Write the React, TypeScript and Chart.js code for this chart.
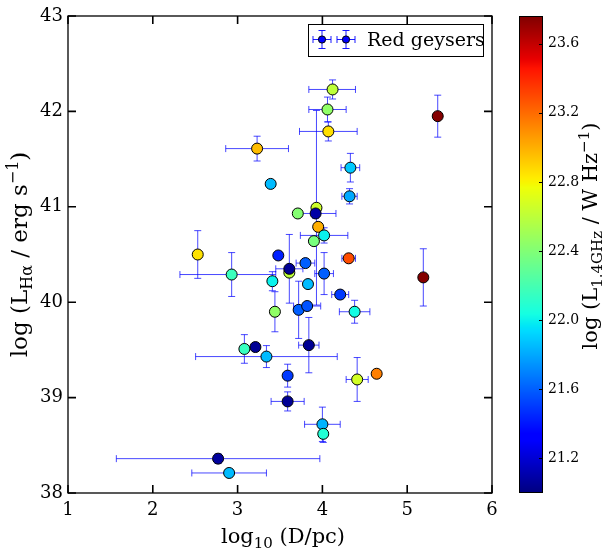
import React, { useEffect, useRef } from "react";
import { Chart, registerables } from "chart.js";

Chart.register(...registerables);

// log10 (D/pc)
const distance = [3.23, 4.12, 4.06, 4.07, 5.36, 4.33, 3.39, 4.32, 3.93, 3.71, 3.92, 3.95, 3.90, 4.02, 2.53, 3.48, 4.31, 3.61, 3.61, 3.80, 2.93, 4.02, 5.19, 3.41, 3.83, 4.21, 3.72, 3.82, 3.44, 4.38, 3.84, 3.21, 3.08, 3.34, 3.59, 4.41, 4.64, 3.59, 4.00, 4.01, 2.77, 2.90];
// log L_Halpha (erg/s)
const lumHa = [41.61, 42.23, 42.02, 41.79, 41.95, 41.41, 41.24, 41.11, 40.99, 40.93, 40.93, 40.79, 40.64, 40.70, 40.50, 40.49, 40.46, 40.31, 40.35, 40.41, 40.29, 40.30, 40.26, 40.22, 40.19, 40.08, 39.92, 39.96, 39.90, 39.90, 39.55, 39.53, 39.51, 39.43, 39.23, 39.19, 39.25, 38.96, 38.72, 38.62, 38.36, 38.21];
// distance error (lower / upper)
const distErrLow = [0.37, 0.28, 0.22, 0.34, 0, 0.11, 0, 0.09, 0, 0, 0.24, 0, 0, 0.28, 0, 0, 0.08, 0, 0.16, 0.11, 0.61, 0.11, 0, 0, 0, 0.10, 0, 0.16, 0, 0.18, 0.12, 0, 0, 0.835, 0, 0.13, 0, 0.195, 0.21, 0, 1.2, 0.44];
const distErrHigh = [0.37, 0.27, 0.22, 0.34, 0, 0.11, 0, 0.09, 0, 0, 0.24, 0, 0, 0.28, 0, 0, 0.08, 0, 0.16, 0.11, 0.52, 0.11, 0, 0, 0, 0.10, 0, 0.16, 0, 0.18, 0.12, 0, 0, 0.835, 0, 0.13, 0, 0.195, 0.21, 0, 1.2, 0.44];
// L_Halpha error
const lumErr = [0.13, 0.10, 0.13, 0.10, 0.22, 0.15, 0, 0.08, 1.02, 0, 0.05, 0, 0, 0.08, 0.25, 0, 0, 0, 0.36, 0, 0.23, 0.22, 0.30, 0.10, 0, 0, 0.30, 0, 0.21, 0.12, 0.29, 0, 0.15, 0.115, 0.12, 0.23, 0, 0.10, 0.18, 0.09, 0.05, 0];
// log L_1.4GHz (W/Hz) -> colour
const lumRadio = [22.96, 22.6, 22.45, 22.86, 23.75, 21.89, 21.85, 21.8, 22.65, 22.41, 21.09, 23.0, 22.37, 22.0, 22.85, 21.43, 23.29, 22.6, 21.05, 21.6, 22.16, 21.6, 23.75, 22.0, 21.85, 21.5, 21.6, 21.57, 22.45, 22.03, 21.05, 21.05, 22.15, 21.85, 21.5, 22.67, 23.14, 21.05, 21.83, 22.08, 21.07, 21.85];

const xTicks = [1, 2, 3, 4, 5, 6];
const yTicks = [38, 39, 40, 41, 42, 43];
const cbTicks = [21.2, 21.6, 22.0, 22.4, 22.8, 23.2, 23.6];
const cbMin = 21.0;
const cbMax = 23.76;
const legendLabel = "Red geysers";

const SERIF = '"DejaVu Serif", "Liberation Serif", serif';

type Seg = { t: string; s: number; dy: number };

const jetR = [[0, 0], [0.35, 0], [0.66, 1], [0.89, 1], [1, 0.5]];
const jetG = [[0, 0], [0.125, 0], [0.375, 1], [0.64, 1], [0.91, 0], [1, 0]];
const jetB = [[0, 0.5], [0.11, 1], [0.34, 1], [0.65, 0], [1, 0]];

function seg(pts: number[][], t: number) {
  for (let i = 1; i < pts.length; i++) {
    if (t <= pts[i][0]) {
      const [x0, y0] = pts[i - 1];
      const [x1, y1] = pts[i];
      return y0 + ((t - x0) / (x1 - x0)) * (y1 - y0);
    }
  }
  return pts[pts.length - 1][1];
}

function jet(v: number) {
  let t = (v - cbMin) / (cbMax - cbMin);
  t = Math.max(0, Math.min(1, t));
  const r = Math.round(seg(jetR, t) * 255);
  const g = Math.round(seg(jetG, t) * 255);
  const b = Math.round(seg(jetB, t) * 255);
  return `rgb(${r},${g},${b})`;
}

function drawRich(ctx: CanvasRenderingContext2D, segs: Seg[], x: number, y: number, rot: number) {
  ctx.save();
  ctx.translate(x, y);
  ctx.rotate(rot);
  ctx.textAlign = "left";
  ctx.textBaseline = "alphabetic";
  ctx.fillStyle = "#000";
  let total = 0;
  const widths: number[] = [];
  for (const s of segs) {
    ctx.font = `${s.s}px ${SERIF}`;
    const w = ctx.measureText(s.t).width;
    widths.push(w);
    total += w;
  }
  let cx = -total / 2;
  segs.forEach((s, i) => {
    ctx.font = `${s.s}px ${SERIF}`;
    ctx.fillText(s.t, cx, s.dy);
    cx += widths[i];
  });
  ctx.restore();
}

const customPlugin = {
  id: "customDraw",
  beforeDatasetsDraw(chart: any) {
    const ctx: CanvasRenderingContext2D = chart.ctx;
    const xs = chart.scales.x;
    const ys = chart.scales.y;
    const cap = 3.5;
    ctx.save();
    ctx.strokeStyle = "rgba(0,0,255,0.72)";
    ctx.lineWidth = 1;
    for (let i = 0; i < distance.length; i++) {
      const px = xs.getPixelForValue(distance[i]);
      const py = ys.getPixelForValue(lumHa[i]);
      if (distErrLow[i] > 0 || distErrHigh[i] > 0) {
        const x1 = xs.getPixelForValue(distance[i] - distErrLow[i]);
        const x2 = xs.getPixelForValue(distance[i] + distErrHigh[i]);
        ctx.beginPath();
        ctx.moveTo(x1, py);
        ctx.lineTo(x2, py);
        ctx.moveTo(x1, py - cap);
        ctx.lineTo(x1, py + cap);
        ctx.moveTo(x2, py - cap);
        ctx.lineTo(x2, py + cap);
        ctx.stroke();
      }
      if (lumErr[i] > 0) {
        const y1 = ys.getPixelForValue(lumHa[i] - lumErr[i]);
        const y2 = ys.getPixelForValue(lumHa[i] + lumErr[i]);
        ctx.beginPath();
        ctx.moveTo(px, y1);
        ctx.lineTo(px, y2);
        ctx.moveTo(px - cap, y1);
        ctx.lineTo(px + cap, y1);
        ctx.moveTo(px - cap, y2);
        ctx.lineTo(px + cap, y2);
        ctx.stroke();
      }
    }
    ctx.restore();
  },
  afterDraw(chart: any) {
    const ctx: CanvasRenderingContext2D = chart.ctx;
    const xs = chart.scales.x;
    const ys = chart.scales.y;
    const cb = chart.scales.cb;
    const a = chart.chartArea;

    // frame
    ctx.save();
    ctx.strokeStyle = "#000";
    ctx.lineWidth = 1.3;
    ctx.strokeRect(a.left, a.top, a.right - a.left, a.bottom - a.top);
    // inward ticks on all sides
    ctx.lineWidth = 1.6;
    const tl = 8;
    ctx.beginPath();
    for (const v of xTicks) {
      const p = xs.getPixelForValue(v);
      ctx.moveTo(p, a.bottom);
      ctx.lineTo(p, a.bottom - tl);
      ctx.moveTo(p, a.top);
      ctx.lineTo(p, a.top + tl);
    }
    for (const v of yTicks) {
      const p = ys.getPixelForValue(v);
      ctx.moveTo(a.left, p);
      ctx.lineTo(a.left + tl, p);
      ctx.moveTo(a.right, p);
      ctx.lineTo(a.right - tl, p);
    }
    ctx.stroke();
    ctx.restore();

    // colorbar
    const cbL = Math.round(cb.left) + 27;
    const cbW = 24;
    const top = Math.round(cb.top);
    const bottom = Math.round(cb.bottom);
    ctx.save();
    for (let y = top; y < bottom; y++) {
      const v = cb.getValueForPixel(y + 0.5);
      ctx.fillStyle = jet(v);
      ctx.fillRect(cbL, y, cbW, 1);
    }
    ctx.strokeStyle = "#000";
    ctx.lineWidth = 1;
    ctx.strokeRect(cbL + 0.5, top + 0.5, cbW - 1, bottom - top - 1);
    ctx.beginPath();
    for (const v of cbTicks) {
      const p = Math.round(cb.getPixelForValue(v)) + 0.5;
      ctx.moveTo(cbL + cbW, p);
      ctx.lineTo(cbL + cbW - 4, p);
    }
    ctx.stroke();
    ctx.restore();

    // axis labels
    const cy = (a.top + a.bottom) / 2;
    drawRich(
      ctx,
      [
        { t: "log (L", s: 23, dy: 0 },
        { t: "Hα", s: 16, dy: 5 },
        { t: " / erg s", s: 23, dy: 0 },
        { t: "−1", s: 16, dy: -9 },
        { t: ")", s: 23, dy: 0 },
      ],
      27,
      cy,
      -Math.PI / 2
    );
    drawRich(
      ctx,
      [
        { t: "log", s: 21, dy: 0 },
        { t: "10", s: 15, dy: 5 },
        { t: " (D/pc)", s: 21, dy: 0 },
      ],
      (a.left + a.right) / 2 + 3,
      543,
      0
    );
    drawRich(
      ctx,
      [
        { t: "log (L", s: 21, dy: 0 },
        { t: "1.4GHz", s: 15, dy: 5 },
        { t: " / W Hz", s: 21, dy: 0 },
        { t: "−1", s: 15, dy: -8 },
        { t: ")", s: 21, dy: 0 },
      ],
      597,
      236,
      -Math.PI / 2
    );

    // legend
    ctx.save();
    ctx.fillStyle = "#fff";
    ctx.fillRect(308.5, 24.5, 175, 32);
    ctx.strokeStyle = "#000";
    ctx.lineWidth = 1;
    ctx.strokeRect(308.5, 24.5, 175, 32);
    const ly = 39.5;
    for (const lx of [322, 346]) {
      ctx.strokeStyle = "rgba(0,0,255,0.9)";
      ctx.lineWidth = 1;
      ctx.beginPath();
      ctx.moveTo(lx - 9, ly);
      ctx.lineTo(lx + 9, ly);
      ctx.moveTo(lx - 9, ly - 3.5);
      ctx.lineTo(lx - 9, ly + 3.5);
      ctx.moveTo(lx + 9, ly - 3.5);
      ctx.lineTo(lx + 9, ly + 3.5);
      ctx.moveTo(lx, ly - 9);
      ctx.lineTo(lx, ly + 9);
      ctx.moveTo(lx - 3.5, ly - 9);
      ctx.lineTo(lx + 3.5, ly - 9);
      ctx.moveTo(lx - 3.5, ly + 9);
      ctx.lineTo(lx + 3.5, ly + 9);
      ctx.stroke();
      ctx.beginPath();
      ctx.arc(lx, ly, 3.6, 0, Math.PI * 2);
      ctx.fillStyle = "#0000ff";
      ctx.fill();
      ctx.strokeStyle = "#000";
      ctx.stroke();
    }
    ctx.fillStyle = "#000";
    ctx.font = `19px ${SERIF}`;
    ctx.textAlign = "left";
    ctx.textBaseline = "alphabetic";
    ctx.fillText(legendLabel, 367, 46);
    ctx.restore();
  },
};

function zeroPad(s: any) {
  s.paddingTop = 0;
  s.paddingBottom = 0;
  s.paddingLeft = 0;
  s.paddingRight = 0;
}

export default function App() {
  const ref = useRef<HTMLCanvasElement | null>(null);
  useEffect(() => {
    document.body.style.margin = "0";
    const canvas = ref.current;
    if (!canvas) return;
    const points = distance.map((x, i) => ({ x, y: lumHa[i] }));
    const colors = lumRadio.map((v) => jet(v));
    const tickFont = { family: SERIF, size: 18 };
    const chart = new Chart(canvas, {
      type: "scatter",
      data: {
        datasets: [
          {
            label: legendLabel,
            data: points,
            pointRadius: 5.5,
            pointHoverRadius: 5.5,
            pointBackgroundColor: colors,
            pointBorderColor: "#000",
            pointBorderWidth: 1,
          },
        ],
      },
      options: {
        animation: false,
        responsive: false,
        devicePixelRatio: 1,
        events: [],
        layout: { padding: { top: 16, left: 0, right: 0, bottom: 0 } },
        plugins: { legend: { display: false }, tooltip: { enabled: false } },
        scales: {
          x: {
            type: "linear",
            position: "bottom",
            min: 1,
            max: 6,
            grid: { display: false, drawTicks: false },
            border: { display: false },
            ticks: { stepSize: 1, font: tickFont, color: "#000", padding: 7, callback: (v: any) => String(v) },
            afterBuildTicks: (s: any) => {
              s.ticks = xTicks.map((v) => ({ value: v }));
            },
            afterFit: (s: any) => {
              s.height = 60;
              zeroPad(s);
            },
          },
          y: {
            type: "linear",
            position: "left",
            min: 38,
            max: 43,
            grid: { display: false, drawTicks: false },
            border: { display: false },
            ticks: { stepSize: 1, font: tickFont, color: "#000", padding: 5, callback: (v: any) => String(v) },
            afterBuildTicks: (s: any) => {
              s.ticks = yTicks.map((v) => ({ value: v }));
            },
            afterFit: (s: any) => {
              s.width = 68;
              zeroPad(s);
            },
          },
          cb: {
            type: "linear",
            position: "right",
            min: cbMin,
            max: cbMax,
            grid: { display: false, drawTicks: false },
            border: { display: false },
            ticks: { font: { family: SERIF, size: 14 }, color: "#000", padding: 56, callback: (v: any) => Number(v).toFixed(1) },
            afterBuildTicks: (s: any) => {
              s.ticks = cbTicks.map((v) => ({ value: v }));
            },
            afterFit: (s: any) => {
              s.width = 114;
              zeroPad(s);
            },
          },
        },
      } as any,
      plugins: [customPlugin],
    });
    return () => chart.destroy();
  }, []);
  return <canvas ref={ref} width={606} height={553} style={{ display: "block" }} />;
}
